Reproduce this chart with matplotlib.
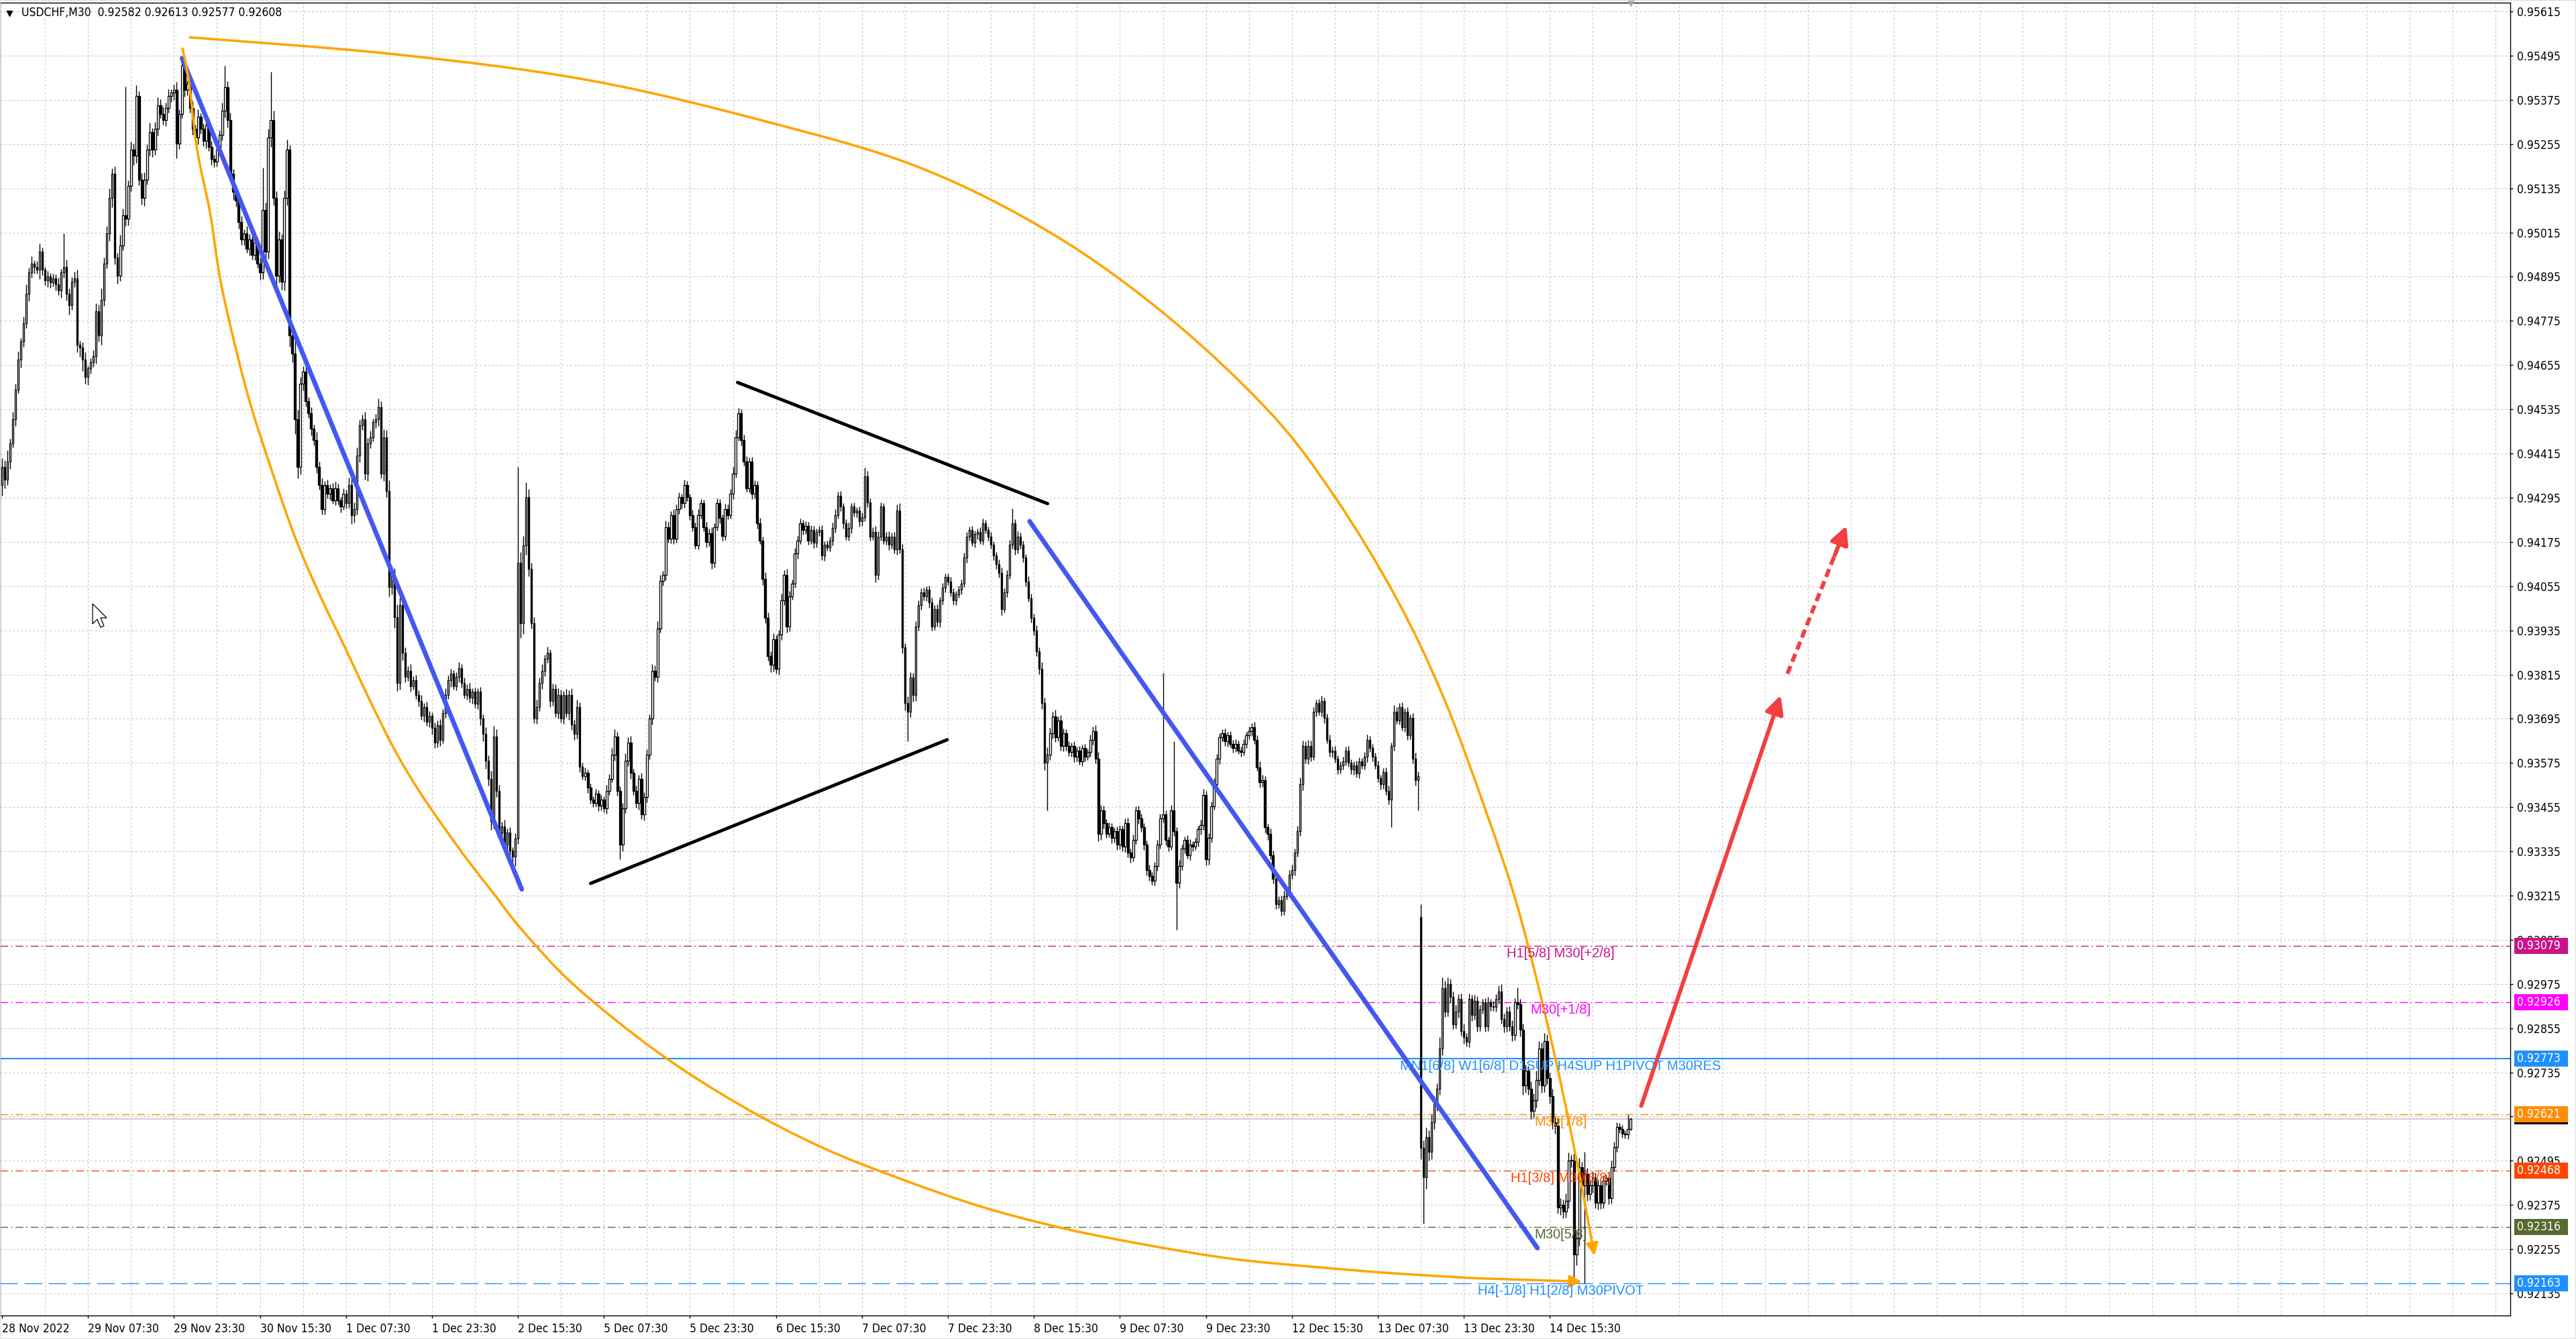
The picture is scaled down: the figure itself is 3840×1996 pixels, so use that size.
import numpy as np
import matplotlib
matplotlib.use("Agg")
import matplotlib.pyplot as plt
from matplotlib.patches import Rectangle, Polygon, PathPatch
from matplotlib.path import Path
from matplotlib.transforms import blended_transform_factory, offset_copy
from matplotlib.lines import Line2D

plt.rcParams['lines.scale_dashes'] = False

# --- price data: M30 closes in 1e-5 above 0.90000 (bar 0 = 28 Nov 15:30) ---
close_pts = [
    4378, 4345, 4394, 4443, 4508, 4589, 4670, 4719, 4768, 4849,
    4906, 4931, 4922, 4914, 4963, 4914, 4885, 4895, 4879, 4890,
    4874, 4857, 4906, 4922, 4849, 4817, 4882, 4890, 4711, 4703,
    4670, 4622, 4646, 4662, 4679, 4801, 4735, 4833, 4931, 5012,
    5109, 5174, 4947, 4898, 4979, 5061, 5052, 5142, 5240, 5223,
    5386, 5158, 5109, 5158, 5240, 5288, 5240, 5296, 5361, 5337,
    5321, 5353, 5386, 5394, 5402, 5256, 5337, 5467, 5402, 5418,
    5353, 5296, 5272, 5329, 5296, 5264, 5305, 5248, 5215, 5207,
    5240, 5280, 5345, 5410, 5321, 5174, 5126, 5101, 5044, 4996,
    5012, 4971, 4996, 4955, 4987, 4931, 4906, 5077, 4963, 5272,
    5321, 5109, 4898, 4996, 4882, 5109, 5240, 4735, 4687, 4508,
    4378, 4605, 4638, 4557, 4524, 4483, 4451, 4378, 4329, 4264,
    4329, 4305, 4321, 4288, 4321, 4288, 4272, 4305, 4280, 4329,
    4248, 4264, 4410, 4491, 4508, 4361, 4443, 4459, 4500, 4508,
    4540, 4361, 4459, 4313, 4053, 4085, 3971, 3792, 4004, 3874,
    3809, 3825, 3784, 3800, 3760, 3743, 3703, 3727, 3687, 3703,
    3670, 3630, 3678, 3638, 3711, 3760, 3800, 3817, 3784, 3809,
    3833, 3792, 3760, 3776, 3752, 3768, 3735, 3768, 3695, 3654,
    3581, 3532, 3418, 3646, 3500, 3386, 3402, 3353, 3386, 3337,
    3321, 3370, 4118, 3955, 4166, 4296, 4101, 3955, 3695, 3727,
    3792, 3825, 3857, 3874, 3744, 3776, 3711, 3760, 3695, 3760,
    3711, 3760, 3679, 3654, 3727, 3565, 3540, 3548, 3508, 3475,
    3467, 3492, 3459, 3475, 3451, 3500, 3532, 3597, 3646, 3500,
    3353, 3451, 3581, 3630, 3548, 3500, 3467, 3532, 3435, 3483,
    3597, 3695, 3825, 3809, 3939, 4069, 4085, 4215, 4183, 4248,
    4183, 4264, 4296, 4280, 4329, 4296, 4248, 4215, 4166, 4248,
    4280, 4215, 4174, 4199, 4118, 4215, 4280, 4240, 4191, 4264,
    4248, 4305, 4361, 4459, 4524, 4451, 4394, 4321, 4394, 4305,
    4329, 4225, 4179, 4074, 3969, 3865, 3842, 3911, 3830, 3923,
    4016, 4086, 3946, 4028, 4062, 4144, 4179, 4225, 4207, 4219,
    4179, 4207, 4173, 4202, 4207, 4138, 4167, 4161, 4179, 4213,
    4248, 4300, 4271, 4225, 4190, 4213, 4271, 4254, 4260, 4231,
    4242, 4353, 4283, 4190, 4202, 4086, 4190, 4271, 4179, 4190,
    4167, 4190, 4155, 4260, 4155, 3888, 3737, 3714, 3807, 3760,
    3946, 4004, 4039, 4027, 4045, 4010, 3946, 3993, 3958, 4016,
    4051, 4080, 4068, 4039, 4016, 4033, 4045, 4062, 4132, 4190,
    4207, 4173, 4196, 4202, 4179, 4225, 4207, 4190, 4167, 4138,
    4115, 4091, 3993, 4039, 4086, 4167, 4225, 4155, 4190, 4167,
    4132, 4068, 4022, 3969, 3935, 3877, 3830, 3737, 3575, 3598,
    3656, 3702, 3644, 3691, 3621, 3656, 3621, 3604, 3621, 3592,
    3609, 3580, 3615, 3592, 3604, 3638, 3662, 3586, 3383, 3447,
    3412, 3383, 3400, 3371, 3389, 3354, 3395, 3348, 3412, 3331,
    3319, 3366, 3447, 3424, 3400, 3354, 3284, 3267, 3255, 3296,
    3354, 3424, 3435, 3366, 3348, 3447, 3389, 3249, 3296, 3342,
    3366, 3325, 3354, 3348, 3360, 3395, 3406, 3488, 3313, 3371,
    3458, 3517, 3586, 3644, 3656, 3633, 3650, 3627, 3615, 3627,
    3609, 3604, 3627, 3650, 3662, 3673, 3638, 3563, 3522, 3528,
    3400, 3383, 3325, 3261, 3191, 3203, 3174, 3214, 3226, 3272,
    3284, 3331, 3389, 3517, 3621, 3586, 3621, 3592, 3714, 3737,
    3714, 3743, 3697, 3638, 3604, 3609, 3586, 3557, 3569, 3580,
    3609, 3575, 3557, 3569, 3546, 3580, 3569, 3592, 3638, 3615,
    3592, 3569, 3534, 3517, 3551, 3499, 3476, 3621, 3714, 3691,
    3726, 3673, 3714, 3650, 3697, 3586, 3528, 3540,
    2530, 2450, 2560, 2520, 2600, 2650, 2690, 2800, 2963, 2900,
    2975, 2940, 2866, 2900, 2935, 2848, 2830, 2818, 2935, 2890,
    2930, 2860, 2905, 2925, 2860, 2925, 2915, 2912, 2935, 2955,
    2880, 2860, 2900, 2860, 2836, 2925, 2920, 2850, 2700, 2740,
    2690, 2630, 2660, 2715, 2800, 2700, 2820, 2720, 2670, 2600,
    2590, 2369, 2375, 2357, 2387, 2496, 2496, 2241, 2284, 2478,
    2429, 2460, 2405, 2429, 2448, 2381, 2429, 2381, 2441, 2448,
    2393, 2478, 2533, 2587, 2581, 2569, 2566, 2582, 2608,
]

# wick length beyond the body (points)
wick_up = [
    25, 18, 30, 12, 20, 15, 22, 10, 18, 25, 14, 20, 9, 16, 22, 12, 8, 15, 10, 14,
    12, 18, 10, 90, 20, 15, 12, 18, 25, 10, 14, 20, 8, 12, 16, 22, 18, 30, 15, 20,
    25, 15, 20, 12, 30, 18, 350, 14, 22, 16, 28, 12, 18, 20, 15, 25, 10, 18, 22, 15,
    20, 14, 18, 10, 15, 22, 12, 25, 16, 10, 14, 18, 12, 20, 9, 16, 12, 20, 15, 10,
    18, 12, 22, 57, 15, 20, 14, 18, 10, 16, 12, 20, 14, 10, 18, 12, 15, 114, 20, 25,
    130, 25, 18, 22, 15, 20, 28, 12, 20, 35, 25, 18, 14, 20, 12, 16, 10, 22, 15, 18,
    12, 16, 10, 14, 18, 12, 9, 15, 12, 20, 30, 18, 22, 16, 12, 20, 14, 18, 10, 15,
    25, 18, 22, 20, 30, 25, 18, 35, 20, 28, 15, 12, 18, 10, 14, 12, 16, 10, 14, 12,
    10, 14, 12, 16, 10, 18, 12, 14, 10, 12, 15, 10, 14, 12, 16, 10, 12, 9, 14, 12,
    18, 14, 22, 30, 20, 16, 14, 18, 12, 15, 10, 14, 260, 30, 25, 40, 22, 18, 15, 20,
    14, 18, 12, 16, 10, 15, 12, 18, 14, 10, 16, 12, 18, 14, 20, 12, 10, 14, 9, 12,
    10, 12, 9, 14, 10, 16, 12, 18, 20, 14, 12, 16, 20, 15, 18, 12, 14, 10, 16, 12,
    15, 12, 18, 14, 20, 16, 12, 18, 14, 10, 16, 12, 14, 10, 15, 12, 10, 14, 12, 16,
    12, 10, 14, 12, 16, 10, 14, 12, 10, 15, 12, 14, 18, 20, 15, 12, 16, 14, 10, 12,
    14, 12, 16, 10, 18, 14, 12, 16, 10, 14, 18, 12, 16, 14, 10, 15, 12, 14, 10, 12,
    10, 14, 12, 9, 12, 14, 10, 12, 10, 14, 16, 12, 14, 10, 12, 14, 10, 12, 9, 12,
    12, 23, 14, 10, 12, 16, 14, 12, 10, 12, 14, 10, 12, 16, 20, 14, 12, 18, 14, 12,
    14, 12, 10, 12, 9, 12, 14, 10, 12, 10, 12, 9, 10, 12, 10, 9, 12, 10, 14, 12,
    10, 12, 9, 10, 12, 14, 10, 9, 12, 10, 9, 12, 14, 10, 12, 14, 41, 12, 14, 10,
    12, 10, 14, 12, 10, 14, 12, 18, 16, 20, 14, 12, 18, 10, 14, 12, 10, 12, 9, 12,
    10, 12, 9, 12, 10, 14, 12, 16, 18, 14, 12, 10, 14, 12, 10, 14, 12, 10, 12, 14,
    12, 14, 10, 12, 14, 12, 10, 14, 12, 10, 12, 14, 384, 12, 10, 14, 186, 12, 16, 12,
    10, 12, 14, 9, 12, 10, 14, 16, 12, 14, 12, 16, 14, 12, 10, 12, 9, 12, 10, 12,
    9, 10, 12, 10, 12, 10, 14, 12, 16, 14, 12, 10, 14, 12, 16, 10, 12, 14, 10, 12,
    14, 12, 16, 18, 14, 12, 16, 14, 12, 10, 12, 14, 10, 12, 14, 10, 12, 9, 10, 12,
    10, 12, 9, 10, 12, 10, 9, 12, 14, 10, 12, 10, 12, 9, 10, 12, 14, 10, 18, 12,
    12, 14, 10, 12, 10, 14, 16, 12, 34, 20, 25, 18, 22, 20, 15, 30, 30, 20, 18, 15,
    14, 18, 12, 15, 20, 12, 14, 10, 16, 12, 14, 10, 12, 15, 10, 14, 12, 16, 20, 14,
    12, 14, 16, 12, 40, 14, 18, 16, 12, 20, 18, 25, 20, 16, 22, 18, 14, 20, 16, 20,
    18, 15, 20, 22, 16, 20, 18, 25, 14, 60, 15, 12, 18, 14, 16, 12, 14, 10, 16, 18,
    14, 12, 10, 12, 9, 37, 5,
]
wick_dn = [
    30, 25, 15, 20, 12, 18, 10, 22, 15, 12, 20, 14, 18, 10, 25, 15, 12, 18, 14, 10,
    16, 12, 20, 14, 18, 25, 12, 15, 20, 25, 30, 18, 22, 14, 12, 20, 15, 25, 18, 14,
    20, 25, 18, 22, 15, 12, 20, 18, 14, 25, 20, 15, 18, 22, 12, 16, 20, 14, 18, 12,
    14, 18, 12, 16, 20, 40, 14, 12, 18, 15, 12, 16, 14, 18, 12, 15, 20, 12, 16, 14,
    12, 16, 14, 18, 20, 15, 22, 16, 18, 14, 16, 12, 18, 14, 16, 12, 20, 18, 25, 20,
    25, 20, 30, 18, 22, 25, 20, 30, 25, 40, 30, 20, 18, 15, 12, 18, 14, 16, 12, 15,
    14, 12, 16, 10, 14, 12, 18, 10, 14, 12, 25, 20, 14, 18, 12, 16, 20, 14, 12, 16,
    18, 14, 20, 16, 25, 20, 30, 22, 18, 20, 14, 12, 16, 10, 12, 14, 10, 16, 12, 14,
    18, 14, 12, 16, 10, 14, 12, 18, 10, 12, 14, 12, 10, 14, 12, 16, 10, 14, 18, 20,
    22, 18, 25, 20, 18, 16, 20, 14, 22, 18, 20, 25, 15, 40, 30, 25, 20, 15, 12, 14,
    12, 16, 14, 10, 18, 14, 12, 16, 10, 14, 12, 18, 14, 16, 12, 14, 10, 12, 14, 10,
    12, 10, 14, 12, 10, 14, 12, 10, 16, 14, 40, 18, 12, 14, 16, 12, 14, 18, 12, 16,
    14, 12, 16, 12, 14, 10, 12, 14, 10, 12, 14, 10, 12, 14, 12, 10, 14, 12, 10, 12,
    10, 12, 14, 10, 16, 12, 10, 14, 12, 10, 12, 10, 14, 12, 10, 14, 12, 10, 12, 14,
    12, 14, 10, 16, 14, 12, 20, 18, 12, 16, 14, 12, 18, 14, 10, 12, 14, 10, 12, 10,
    12, 10, 14, 12, 10, 12, 14, 10, 12, 14, 12, 10, 12, 14, 10, 12, 14, 10, 12, 14,
    12, 10, 14, 12, 10, 20, 14, 12, 10, 12, 14, 10, 12, 14, 12, 16, 20, 80, 14, 18,
    16, 12, 14, 10, 12, 14, 12, 10, 12, 14, 10, 12, 9, 12, 10, 12, 10, 12, 10, 14,
    12, 10, 12, 14, 10, 12, 9, 12, 10, 12, 14, 12, 16, 10, 14, 12, 10, 14, 12, 10,
    12, 14, 10, 12, 14, 12, 14, 16, 20, 128, 16, 14, 12, 10, 12, 14, 12, 10, 12, 14,
    12, 10, 14, 12, 10, 12, 14, 12, 20, 16, 14, 12, 10, 14, 12, 16, 14, 12, 14, 12,
    14, 12, 10, 14, 12, 16, 14, 12, 10, 12, 14, 12, 10, 14, 12, 10, 12, 127, 14, 12,
    12, 10, 14, 12, 10, 12, 14, 12, 16, 14, 12, 10, 12, 14, 10, 12, 14, 10, 12, 10,
    10, 12, 9, 12, 10, 14, 12, 10, 14, 12, 14, 16, 12, 14, 12, 10, 14, 12, 10, 14,
    12, 14, 10, 12, 16, 12, 14, 12, 10, 12, 10, 12, 14, 10, 12, 14, 10, 12, 10, 12,
    12, 10, 12, 14, 10, 12, 10, 12, 14, 10, 12, 10, 12, 14, 12, 10, 14, 76, 12, 10,
    12, 10, 14, 12, 10, 12, 14, 81, 30, 125, 30, 25, 20, 18, 20, 16, 18, 14, 12, 16,
    14, 12, 16, 14, 18, 12, 14, 16, 12, 14, 12, 10, 14, 12, 14, 10, 12, 14, 12, 16,
    14, 12, 16, 14, 12, 18, 25, 20, 16, 22, 18, 20, 16, 20, 18, 16, 20, 18, 22, 18,
    20, 18, 16, 20, 18, 73, 30, 20, 16, 267, 18, 16, 20, 14, 18, 16, 14, 12, 16, 14,
    12, 14, 10, 12, 10, 12, 5,
]
first_open = 4330
gap_open = {528: 3157}  # CPI bar opens below prior close

time_labels = ["28 Nov 2022", "29 Nov 07:30", "29 Nov 23:30", "30 Nov 15:30",
               "1 Dec 07:30", "1 Dec 23:30", "2 Dec 15:30", "5 Dec 07:30",
               "5 Dec 23:30", "6 Dec 15:30", "7 Dec 07:30", "7 Dec 23:30",
               "8 Dec 15:30", "9 Dec 07:30", "9 Dec 23:30", "12 Dec 15:30",
               "13 Dec 07:30", "13 Dec 23:30", "14 Dec 15:30"]
price_ticks = [0.95615 - 0.0012 * k for k in range(30)]

levels = [0.93079, 0.92926, 0.92773, 0.92621, 0.92468, 0.92316, 0.92163]
level_names = ["H1[5/8] M30[+2/8]", "M30[+1/8]",
               "MN1[6/8] W1[6/8] D1SUP H4SUP H1PIVOT M30RES", "M30[7/8]",
               "H1[3/8] M30[6/8]", "M30[5/8]", "H4[-1/8] H1[2/8] M30PIVOT"]
level_colors = ["#C71585", "#FF00FF", "#1E90FF", "#FF8C00", "#FF4500", "#556B2F", "#1E90FF"]
level_kind = ["dashdot", "dashdot", "solid", "dashdot", "dashdot", "dashdot", "dashed"]
bid = 0.92608
title = "USDCHF,M30  0.92582 0.92613 0.92577 0.92608"

# drawn objects, (bar index, price)
blue_lines = [((67.0, 0.95488), (193.4, 0.93232)), ((382.4, 0.94231), (571.4, 0.92258))]
black_lines = [((273.7, 0.94608), (389.1, 0.94279)), ((219.0, 0.93248), (351.7, 0.93638))]
arc_low_bar = [67.1, 69.6, 72.6, 77.5, 81.8, 90.9, 100.1, 109.3, 118.5, 127.6, 136.8, 146.0,
               155.1, 164.3, 173.5, 182.6, 193.6, 213.2, 243.8, 274.3, 304.9, 335.5, 366.0,
               396.6, 427.2, 457.7, 488.3, 518.9, 549.4, 587.9]
arc_low_pts = [5517, 5423, 5240, 5066, 4866, 4589, 4375, 4183, 4027, 3889, 3746, 3612,
               3500, 3402, 3309, 3224, 3121, 2970, 2791, 2648, 2532, 2443, 2367,
               2309, 2265, 2229, 2207, 2189, 2176, 2167]
arc_up_bar = [69.5, 146.0, 218.7, 286.6, 341.6, 390.5, 433.3, 471.8, 496.2, 518.9,
              536.6, 552.5, 564.7, 577.5, 587.3, 592.6]
arc_up_pts = [5545, 5499, 5428, 5312, 5191, 5013, 4790, 4527, 4295, 4022,
              3750, 3438, 3166, 2791, 2448, 2238]
red_solid = ((610.0, 0.92644), (661.9, 0.93759))
red_dash = ((664.4, 0.93817), (686.4, 0.94219))

# --- build OHLC ---
n = min(len(close_pts), len(wick_up), len(wick_dn))
c = 0.9 + np.array(close_pts[:n]) / 1e5
o = 0.9 + np.array([first_open] + close_pts[:n - 1]) / 1e5
for k, v in gap_open.items():
    o[k] = 0.9 + v / 1e5
hi = np.maximum(o, c) + np.array(wick_up[:n]) / 1e5
lo = np.minimum(o, c) - np.array(wick_dn[:n]) / 1e5
x = np.arange(n)

W, H = 3840, 1996
fig = plt.figure(figsize=(W / 100, H / 100), dpi=100)
ax = fig.add_axes([0, 35 / H, 3742 / W, 1957 / H])
ax.set_xlim(-0.75, 933.4)
ax.set_ylim(0.920750, 0.956389)

yfont = dict(family=['DejaVu Sans'], fontstretch='condensed')
lfont = dict(family=['Liberation Sans', 'DejaVu Sans'])

# grid
gcol = '#C4C4C4'
for b in range(16, 934, 16):
    ax.axvline(b, color=gcol, lw=0.75, ls=(0, (2.2, 2.2)), zorder=1)
for p in price_ticks:
    ax.axhline(p, color=gcol, lw=0.75, ls=(0, (2.2, 2.2)), zorder=1)

# levels
styles = {"dashdot": (0, (8.3, 3.3, 1.4, 3.3)), "dashed": (0, (19, 7)), "solid": "-"}
ax.axhline(bid, color='#C0C0C0', lw=1.1, zorder=2)
txt_tr = offset_copy(ax.transData, fig=fig, x=0, y=-2, units='dots')
for p, name, col, kind in zip(levels, level_names, level_colors, level_kind):
    ax.axhline(p, color=col, lw=1.5 if kind == "solid" else 1.0, ls=styles[kind], zorder=2)
    ax.text(580, p, name, transform=txt_tr, color=col, fontsize=14.5, ha='center', va='top',
            zorder=7, **lfont)

# candles
ax.vlines(x, lo, hi, color='black', lw=1.0, zorder=3)
bottom = np.minimum(o, c)
height = np.maximum(np.abs(c - o), 0.000012)
up = c >= o
ax.bar(x[up], height[up], bottom=bottom[up], width=0.62, facecolor='white',
       edgecolor='black', lw=0.95, zorder=4)
ax.bar(x[~up], height[~up], bottom=bottom[~up], width=0.62, facecolor='black',
       edgecolor='black', lw=0.95, zorder=4)

# drawn objects
for (a, b) in blue_lines:
    ax.plot([a[0], b[0]], [a[1], b[1]], color='#4458F0', lw=5, solid_capstyle='round', zorder=6)
for (a, b) in black_lines:
    ax.plot([a[0], b[0]], [a[1], b[1]], color='black', lw=3.5, solid_capstyle='round', zorder=6)


def smooth_path(xs, ys):
    pts = np.c_[xs, ys]
    ext = np.vstack([pts[0], pts, pts[-1]])
    verts, codes = [pts[0]], [Path.MOVETO]
    for i in range(len(pts) - 1):
        p0, p1, p2, p3 = ext[i], ext[i + 1], ext[i + 2], ext[i + 3]
        verts += [p1 + (p2 - p0) / 6, p2 - (p3 - p1) / 6, p2]
        codes += [Path.CURVE4] * 3
    return Path(verts, codes)


orange = '#FFA500'
for bars, pts in ((arc_low_bar, arc_low_pts), (arc_up_bar, arc_up_pts)):
    pr = 0.9 + np.array(pts) / 1e5
    ax.add_patch(PathPatch(smooth_path(bars[:-1], pr[:-1]), fill=False, edgecolor=orange,
                           lw=2.6, zorder=6, joinstyle='round'))
    ax.annotate('', xy=(bars[-1], pr[-1]), xytext=(bars[-2], pr[-2]),
                arrowprops=dict(arrowstyle='-|>,head_length=0.9,head_width=0.45',
                                color=orange, lw=2.6, shrinkA=0, shrinkB=0,
                                mutation_scale=12), zorder=6)

red = '#F23F3F'
ax.annotate('', xy=red_solid[1], xytext=red_solid[0],
            arrowprops=dict(arrowstyle='-|>,head_length=0.9,head_width=0.45', color=red,
                            lw=4.3, shrinkA=0, shrinkB=0, mutation_scale=18), zorder=6)
# dashed leg: dashed shaft plus a filled head at its tip
(dx0, dy0), (dx1, dy1) = red_dash
ax.plot([dx0, dx0 + 0.85 * (dx1 - dx0)], [dy0, dy0 + 0.85 * (dy1 - dy0)], color=red, lw=4.3,
        ls=(0, (9, 5)), zorder=6)
ax.annotate('', xy=(dx1, dy1), xytext=(dx0 + 0.8 * (dx1 - dx0), dy0 + 0.8 * (dy1 - dy0)),
            arrowprops=dict(arrowstyle='-|>,head_length=0.9,head_width=0.45', color=red,
                            lw=4.3, shrinkA=0, shrinkB=0, mutation_scale=18), zorder=6)

# axes / ticks
for s in ax.spines.values():
    s.set_color('black')
    s.set_linewidth(1.0)
ax.yaxis.tick_right()
ax.set_yticks(price_ticks)
ax.set_yticklabels([f"{p:.5f}" for p in price_ticks], fontsize=12.6, **yfont)
ax.set_xticks(np.arange(len(time_labels)) * 32)
ax.set_xticklabels(time_labels, fontsize=12.6, ha='left', **yfont)
ax.tick_params(axis='y', length=3, width=1, pad=4, direction='out')
ax.tick_params(axis='x', length=3, width=1, pad=5, direction='out')

# right-axis price tags
tr = blended_transform_factory(ax.transAxes, ax.transData)
px = (0.956389 - 0.920750) / 1957


def tag(price, color, label, half, z):
    ax.add_patch(Rectangle((1.0016, price - half * px), 0.0214, 2 * half * px, transform=tr,
                           facecolor=color, edgecolor='none', clip_on=False, zorder=z))
    ax.text(1.0027, price, label, transform=tr, color='white', fontsize=12.6,
            va='center', ha='left', clip_on=False, zorder=z + 0.5, **yfont)


tag(bid, 'black', f"{bid:.5f}", 8, 18)
for p, col in zip(levels, level_colors):
    tag(p, col, f"{p:.5f}", 12, 20)

# header and chart decorations
fig.text(32 / W, 1 - 19.5 / H, title, fontsize=12.6, va='center', ha='left', **yfont)
fig.add_artist(Line2D([13.5 / W], [1 - 19.5 / H], marker='v', ms=5.5, color='black',
                      transform=fig.transFigure))
ax.plot([n - 1], [0.956389], marker='v', ms=7, color='#A8A8A8', clip_on=False, zorder=8)
cur = np.array([(0, 0), (0, 30), (7, 23), (12, 35), (17, 33), (12, 21), (21, 21)], float)
cur = cur + (138, 900)
fig.add_artist(Polygon(np.c_[cur[:, 0] / W, 1 - cur[:, 1] / H], closed=True,
                       facecolor='white', edgecolor='black', lw=0.9,
                       transform=fig.transFigure))
fig.add_artist(Rectangle((0, 0), 1, 1, transform=fig.transFigure, fill=False,
                         edgecolor='#DADADA', lw=1.5))

fig.savefig('out.png', dpi=100, facecolor='white')
